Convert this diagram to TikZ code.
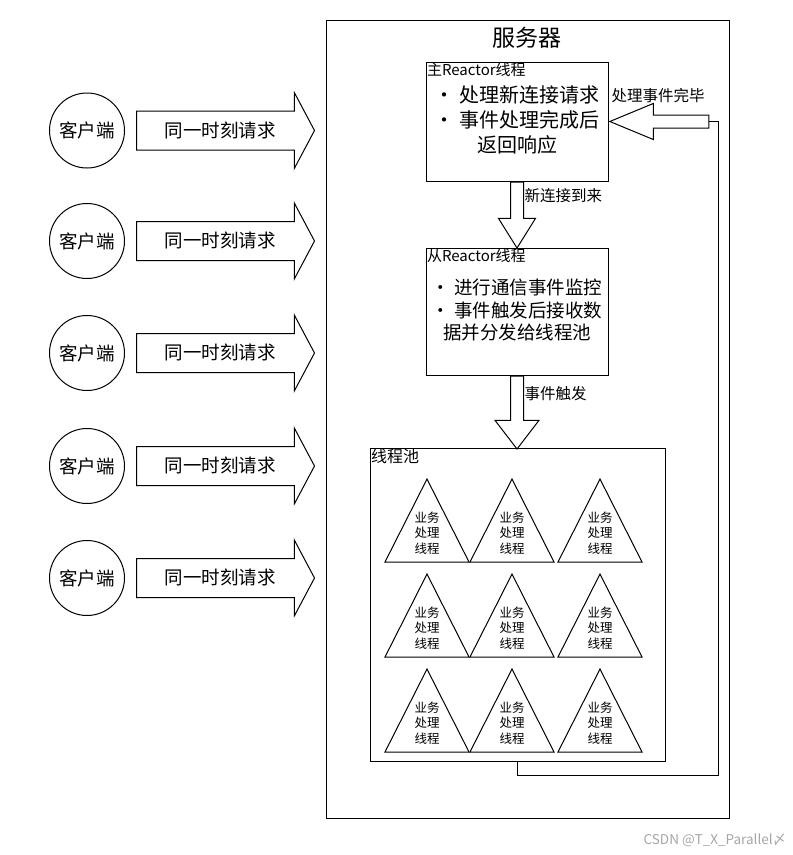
\documentclass[tikz,border=0pt]{standalone}
\usepackage{fontspec}
\setmainfont{Noto Sans CJK SC}
\usetikzlibrary{shapes.arrows,positioning}

\begin{document}
\begin{tikzpicture}[x=1pt,y=-1pt,line width=1pt,
	box/.style={draw,rectangle,inner sep=0pt},
	tag/.style={inner sep=1pt,font=\fontsize{15pt}{17pt}\selectfont},
	note/.style={inner sep=1pt,font=\fontsize{15.5pt}{17pt}\selectfont},
	client/.style={draw,circle,minimum size=75pt,inner sep=0pt,font=\fontsize{18.5pt}{20pt}\selectfont},
	request/.style={draw,single arrow,minimum height=178pt,minimum width=75pt,
		single arrow head extend=18.5pt,single arrow tip angle=124,
		inner xsep=2pt,inner ysep=11pt,text height=14.5pt,text depth=1.5pt,
		font=\fontsize{18.5pt}{20pt}\selectfont},
	blockarrow/.style={draw,single arrow,inner sep=6pt,anchor=tail},
	worker/.style={inner sep=0pt,align=center,font=\fontsize{12.5pt}{15.5pt}\selectfont}]
	\useasboundingbox (0,0) rectangle (793,855);

	% server frame
	\node[box,minimum width=403pt,minimum height=798pt] (server) at (527.5,419) {};
	\node[font=\fontsize{23pt}{26pt}\selectfont] (title) at (527,38) {服务器};

	% main reactor
	\node[box,minimum width=182pt,minimum height=119pt] (main) at (517,121.5) {};
	\node[tag,anchor=north west] (mainname) at (main.north west) {主Reactor线程};
	\node[inner sep=0pt,align=center,font=\fontsize{20pt}{25pt}\selectfont] (maintext) at (517,120)
		{• 处理新连接请求\\• 事件处理完成后\\返回响应};

	% sub reactor
	\node[box,minimum width=182pt,minimum height=127pt] (sub) at (517,311.5) {};
	\node[tag,anchor=north west] (subname) at (sub.north west) {从Reactor线程};
	\node[inner sep=0pt,align=center,font=\fontsize{18.5pt}{22.5pt}\selectfont] (subtext) at (517,310.5)
		{• 进行通信事件监控\\• 事件触发后接收数\\据并分发给线程池};

	% thread pool
	\node[box,minimum width=295pt,minimum height=313pt] (pool) at (517.5,604.5) {};
	\node[inner sep=1pt,anchor=north west,font=\fontsize{16pt}{18pt}\selectfont] (poolname) at (pool.north west) {线程池};
	\foreach \col/\cx in {1/427,2/512,3/600}
		\foreach \row/\by in {1/562,2/657,3/752}{
			\draw (\cx-42,\by) -- (\cx,\by-83) -- (\cx+42,\by) -- cycle;
			\node[worker] (w\row\col) at (\cx,\by-29) {业务\\处理\\线程};
		}

	% fat arrows between the parts
	\node[blockarrow,shape border rotate=270,minimum height=66pt,minimum width=36pt,
		single arrow head extend=12pt,single arrow tip angle=64] (newconn) at (main.south) {};
	\node[note,anchor=west] (newconnlbl) at (523,196) {新连接到来};
	\node[blockarrow,shape border rotate=270,minimum height=73pt,minimum width=43pt,
		single arrow head extend=15.5pt,single arrow tip angle=75] (trigger) at (sub.south) {};
	\node[note,anchor=west] (triggerlbl) at (523,394) {事件触发};
	\node[blockarrow,anchor=tip,shape border rotate=180,minimum height=99pt,minimum width=35pt,
		single arrow head extend=11.5pt,single arrow tip angle=45] (back) at (main.east) {};
	\node[note] (backlbl) at (658,96) {处理事件完毕};
	\coordinate (corner) at ([xshift=9pt]back.tail);
	\draw (pool.south) -- ++(0,14) -| (corner) -- (back.tail);

	% clients
	\foreach \i/\y in {1/130.5,2/241,3/353,4/466,5/578}{
		\node[client] (c\i) at (87,\y) {客户端};
		\node[request,right=11pt of c\i] (r\i) {同一时刻请求};
	}

	\node[anchor=east,text=gray!70,font=\fontsize{13.5pt}{15pt}\selectfont] (mark) at (790,840) {CSDN @T\_X\_Parallel〆};
\end{tikzpicture}
\end{document}
